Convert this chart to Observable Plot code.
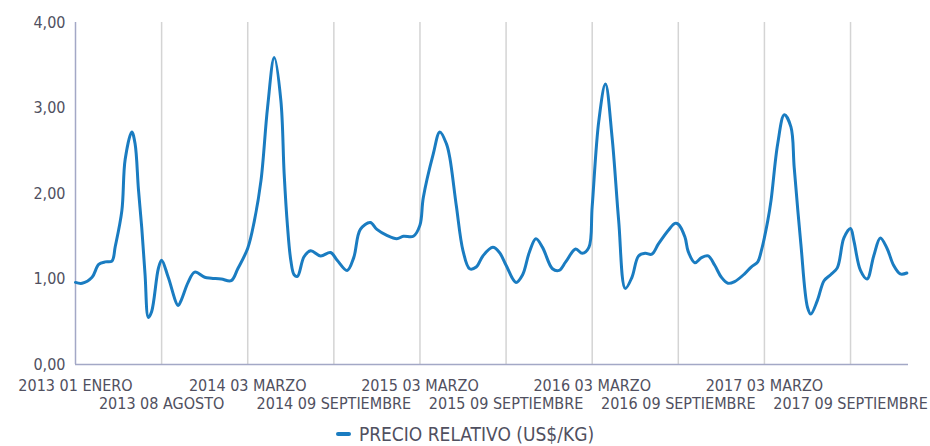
<!DOCTYPE html>
<html>
<head>
<meta charset="utf-8">
<script src="https://cdn.jsdelivr.net/npm/d3@7"></script>
<script src="https://cdn.jsdelivr.net/npm/@observablehq/plot@0.6"></script>
<style>
  html, body { margin: 0; padding: 0; background: #fff; }
  #chart svg { display: block; }
  .legend { height: 24px; display: flex; align-items: center; justify-content: center;
    font-family: "DejaVu Sans Condensed", sans-serif; font-stretch: condensed; font-size: 19px; color: #505060; }
  .legend .sw { width: 15px; height: 4px; border-radius: 2px; background: #1a7cc1; margin-right: 8px; }
</style>
</head>
<body>
<div id="chart"></div>
<div class="legend"><span class="sw"></span><span id="serie"></span></div>
<script>
const serie = "PRECIO RELATIVO (US$/KG)";
const semana = [0,2,5,7,9,11,12,14,15,17,18,19,20,21,22,23,25,26,28,31,32,34,36,39,41,44,47,49,52,54,56,58,60,62,63,64,65,66,67,69,71,74,77,79,82,84,86,89,91,94,97,99,102,104,105,108,110,112,113,115,117,119,121,123,126,128,130,133,135,137,139,141,144,146,148,151,153,155,156,158,160,162,164,166,168,170,172,174,176,179,181,182,184,185,187,189,191,193,195,197,199,202,204,206,207,209,210,212,214,216,217,219,221,222,224,226,228,230,232,234,235,237,239,241,243,245,247,249,251];
const precio = [0.96,0.95,1.02,1.17,1.20,1.21,1.38,1.80,2.40,2.72,2.58,2.05,1.60,1.05,0.55,0.62,1.12,1.22,1.02,0.69,0.76,0.96,1.08,1.02,1.01,1.00,0.98,1.12,1.36,1.68,2.15,3.01,3.59,3.09,2.23,1.62,1.22,1.05,1.03,1.26,1.33,1.27,1.31,1.22,1.10,1.25,1.58,1.66,1.58,1.51,1.47,1.50,1.50,1.63,1.95,2.46,2.72,2.58,2.42,1.85,1.33,1.12,1.14,1.27,1.37,1.31,1.16,0.96,1.05,1.31,1.47,1.37,1.12,1.10,1.20,1.35,1.30,1.37,1.85,2.85,3.28,2.66,1.68,0.89,1.02,1.27,1.30,1.29,1.41,1.57,1.65,1.64,1.49,1.32,1.19,1.25,1.27,1.16,1.02,0.95,0.97,1.06,1.14,1.20,1.32,1.68,1.92,2.58,2.92,2.78,2.30,1.41,0.67,0.59,0.75,0.98,1.05,1.13,1.48,1.59,1.45,1.10,1.00,1.27,1.48,1.36,1.16,1.06,1.07];
const etiquetas = ["2013 01 ENERO","2013 08 AGOSTO","2014 03 MARZO","2014 09 SEPTIEMBRE","2015 03 MARZO","2015 09 SEPTIEMBRE","2016 03 MARZO","2016 09 SEPTIEMBRE","2017 03 MARZO","2017 09 SEPTIEMBRE"];
const semanasPorEtiqueta = 26;
const yTicks = [0, 1, 2, 3, 4];

document.getElementById("serie").textContent = serie;

const data = semana.map((s, i) => ({s, p: precio[i]}));
const tickPos = etiquetas.map((_, i) => i * semanasPorEtiqueta);
const fila1 = tickPos.filter((_, i) => i % 2 === 0);
const fila2 = tickPos.filter((_, i) => i % 2 === 1);
const fmtX = d => etiquetas[Math.round(d / semanasPorEtiqueta)];
const axisColor = "#a3a8c6";
const textColor = "#505060";

const chart = Plot.plot({
  width: 930,
  height: 422,
  marginTop: 22,
  marginLeft: 75,
  marginRight: 22,
  marginBottom: 58,
  style: {fontFamily: "'DejaVu Sans Condensed', sans-serif", fontSize: "16px", color: textColor, background: "#fff"},
  x: {domain: [0, 251.5]},
  y: {domain: [0, 4]},
  marks: [
    Plot.ruleX(tickPos.slice(1), {stroke: "#d4d4d4", strokeWidth: 1.5}),
    Plot.axisY(yTicks, {label: null, tickSize: 0, tickPadding: 10, tickFormat: d => d.toFixed(2).replace(".", ","), fill: textColor, fontSize: 16}),
    Plot.axisX(fila1, {label: null, tickSize: 0, tickPadding: 15, tickFormat: fmtX, fill: textColor, fontSize: 16}),
    Plot.axisX(fila2, {label: null, tickSize: 0, tickPadding: 33, tickFormat: fmtX, fill: textColor, fontSize: 16}),
    Plot.ruleY([0], {stroke: axisColor, strokeWidth: 1.5}),
    Plot.ruleX([0], {stroke: axisColor, strokeWidth: 1.5}),
    Plot.line(data, {x: "s", y: "p", stroke: "#1a7cc1", strokeWidth: 3, curve: "catmull-rom"})
  ]
});
document.getElementById("chart").appendChild(chart);
</script>
</body>
</html>
